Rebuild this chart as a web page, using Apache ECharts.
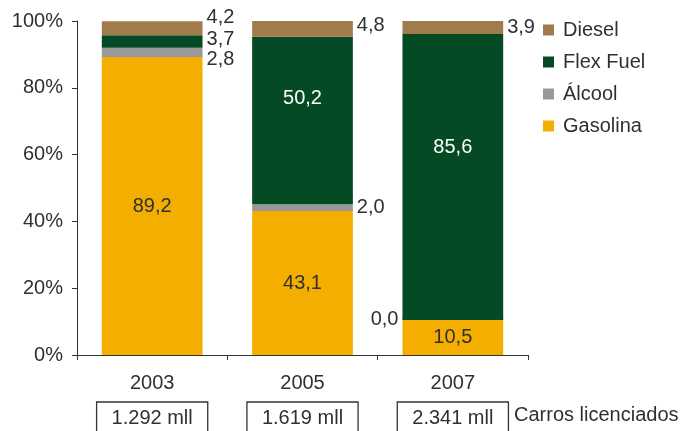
<!DOCTYPE html>
<html>
<head>
<meta charset="utf-8">
<script src="https://cdn.jsdelivr.net/npm/echarts@6/dist/echarts.min.js"></script>
<style>
  html, body { margin: 0; padding: 0; background: #fff; }
  #chart { width: 693px; height: 431px; }
</style>
</head>
<body>
<div id="chart"></div>
<script>
const years = ['2003', '2005', '2007']
const licenciados = ['1.292 mll', '1.619 mll', '2.341 mll']
const gasolina = [89.2, 43.1, 10.5]
const alcool = [2.8, 2.0, 0.0]
const flexFuel = [3.7, 50.2, 85.6]
const diesel = [4.2, 4.8, 3.9]
const yTicks = [0, 20, 40, 60, 80, 100]

const FONT = '"Liberation Sans", Arial, sans-serif'
const TEXT = '#303030'
const SIZE = 20

const fmt = v => v.toFixed(1).replace('.', ',')

// rótulos: dentro da barra ou ao lado (posição por item)
const inside = (vals, color, offsets) => vals.map((v, i) => ({
  value: v,
  label: {
    show: true,
    position: 'inside',
    color: color,
    offset: [0, offsets[i] || 0]
  }
}))

const side = (vals, places) => vals.map((v, i) => {
  const p = places[i]
  if (!p) return { value: v }
  return {
    value: v,
    label: { show: true, position: p.pos, distance: 4, offset: [0, p.dy] }
  }
})

const baseLabel = {
  show: false,
  fontFamily: FONT,
  fontSize: SIZE,
  color: TEXT,
  formatter: p => fmt(p.value)
}

const series = [
  {
    name: 'Gasolina',
    color: '#F4AE00',
    data: inside(gasolina, TEXT, [0, 0, 0])
  },
  {
    name: 'Álcool',
    color: '#999999',
    barMinHeight: 2,
    data: side(alcool, [
      { pos: 'right', dy: 7 },
      { pos: 'right', dy: 0 },
      { pos: 'left', dy: 1 }
    ])
  },
  {
    name: 'Flex Fuel',
    color: '#034A25',
    data: inside(flexFuel, '#ffffff', [0, -22, -29]).map((d, i) => i === 0
      ? { value: d.value, label: { show: true, position: 'right', distance: 4, offset: [0, -2] } }
      : d)
  },
  {
    name: 'Diesel',
    color: '#A17B4B',
    data: side(diesel, [
      { pos: 'right', dy: -11 },
      { pos: 'right', dy: -3 },
      { pos: 'right', dy: 0 }
    ])
  }
].map(s => Object.assign({
  type: 'bar',
  stack: 'total',
  barWidth: '67%',
  xAxisIndex: 0,
  label: baseLabel,
  emphasis: { disabled: true }
}, s))

const option = {
  animation: false,
  textStyle: { fontFamily: FONT },
  title: {
    text: 'Carros licenciados',
    left: 514,
    top: 405,
    padding: 0,
    textStyle: { fontFamily: FONT, fontSize: SIZE, fontWeight: 'normal', color: TEXT }
  },
  legend: {
    data: ['Diesel', 'Flex Fuel', 'Álcool', 'Gasolina'],
    orient: 'vertical',
    left: 538,
    top: 15,
    icon: 'rect',
    itemWidth: 11,
    itemHeight: 11,
    itemGap: 12,
    selectedMode: false,
    textStyle: { fontFamily: FONT, fontSize: SIZE, color: TEXT, padding: [0, 0, 0, 4] }
  },
  grid: { left: 77, right: 165, top: 21, bottom: 76, outerBoundsMode: 'none' },
  xAxis: [
    {
      type: 'category',
      data: years,
      axisLine: { lineStyle: { color: '#333', width: 1 } },
      axisTick: { show: true, length: 5, lineStyle: { color: '#333' } },
      axisLabel: { fontFamily: FONT, fontSize: SIZE, color: TEXT, margin: 18 }
    },
    {
      type: 'category',
      data: licenciados,
      position: 'bottom',
      axisLine: { show: false },
      axisTick: { show: false },
      axisLabel: {
        fontFamily: FONT,
        fontSize: SIZE,
        color: TEXT,
        margin: 47,
        borderColor: '#333',
        borderWidth: 1.3,
        padding: [6, 15, 10, 15]
      }
    }
  ],
  yAxis: {
    type: 'value',
    min: 0,
    max: 100,
    interval: 20,
    axisLine: { show: true, lineStyle: { color: '#333', width: 1 } },
    axisTick: { show: true, length: 5, inside: false, lineStyle: { color: '#333' } },
    splitLine: { show: false },
    axisLabel: {
      fontFamily: FONT,
      fontSize: SIZE,
      color: TEXT,
      margin: 14,
      formatter: v => yTicks.includes(v) ? v + '%' : ''
    }
  },
  series: series
}

const chart = echarts.init(document.getElementById('chart'))
chart.setOption(option)
</script>
</body>
</html>
